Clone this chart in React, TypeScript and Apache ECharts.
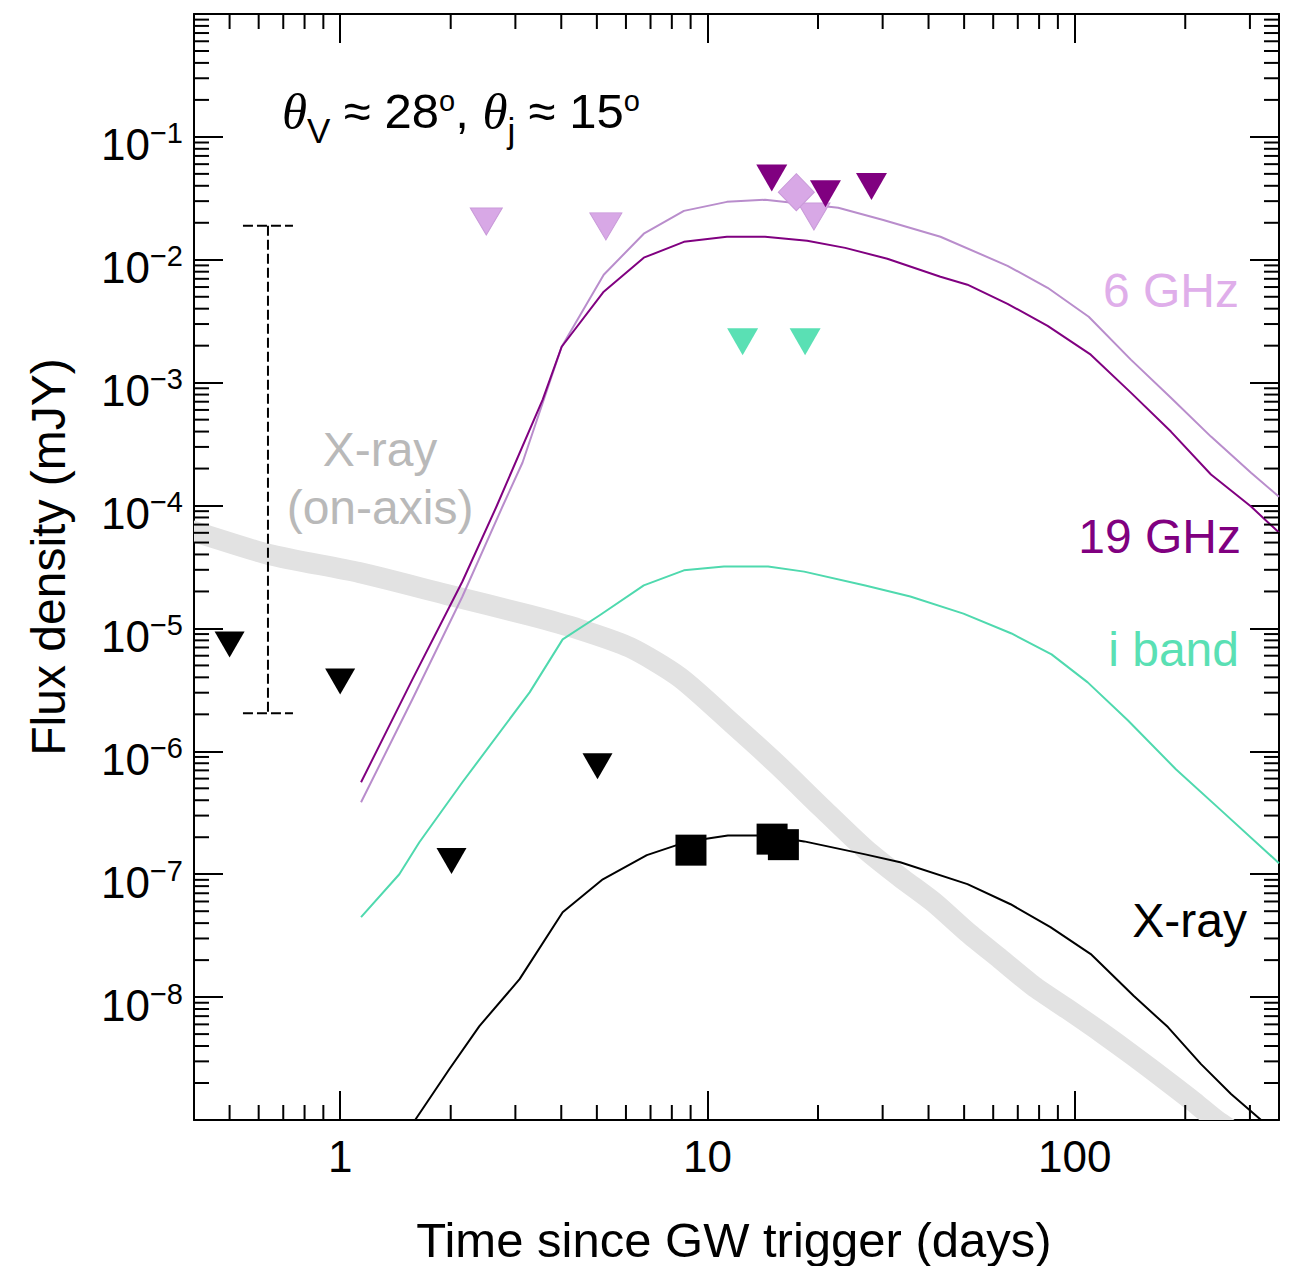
import React, { useEffect, useRef } from 'react';
import * as echarts from 'echarts';

const FONT = '"Liberation Sans", Arial, Helvetica, sans-serif';
const SERIF = '"Liberation Serif", "DejaVu Serif", serif';

// axis ranges
const X_MIN = 0.4;
const X_MAX = 360;
const Y_MIN = 1e-9;
const Y_MAX = 1;

// minor tick positions
const xMinorTicks = [0.5, 0.6, 0.7, 0.8, 0.9, 2, 3, 4, 5, 6, 7, 8, 9, 20, 30, 40, 50, 60, 70, 80, 90, 200, 300];
const yMinorMultipliers = [2, 3, 4, 5, 6, 7, 8, 9];
const yDecadeExponents = [-9, -8, -7, -6, -5, -4, -3, -2, -1];

// model curves: [days, mJy]
const onAxisXray: [number, number][] = [
  [0.37, 6.55e-5], [0.4, 6.15e-5], [0.64, 4.0e-5], [1.127, 2.85e-5], [1.946, 1.89e-5], [3.28, 1.28e-5],
  [4.49, 9.82e-6], [6.15, 7.01e-6], [8.41, 4.0e-6], [11.74, 1.66e-6], [15.48, 7.83e-7], [20.4, 3.51e-7],
  [26.9, 1.6e-7], [33.5, 9.46e-8], [41.3, 5.92e-8], [51.05, 3.37e-8], [62.8, 2.04e-8], [77.3, 1.23e-8],
  [95.7, 7.98e-9], [117.8, 5.19e-9], [144.9, 3.31e-9], [179.4, 2.04e-9], [211.2, 1.4e-9], [242.6, 1.0e-9],
  [284, 7.3e-10],
];

const ghz6Curve: [number, number][] = [
  [1.14, 3.85e-7], [1.573, 2.65e-6], [2.152, 1.82e-5], [2.767, 9.82e-5], [3.138, 2.24e-4], [4.01, 1.96e-3],
  [5.22, 7.55e-3], [6.71, 1.63e-2], [8.63, 2.5e-2], [11.3, 2.96e-2], [14.35, 3.08e-2], [22.71, 2.65e-2],
  [30.12, 2.11e-2], [43.1, 1.54e-2], [65.64, 8.93e-3], [84.4, 5.92e-3], [109.2, 3.44e-3], [142.2, 1.54e-3],
  [182.8, 7.55e-4], [235, 3.64e-4], [302.1, 1.85e-4], [360, 1.18e-4],
];

const ghz19Curve: [number, number][] = [
  [1.14, 5.6e-7], [1.573, 3.85e-6], [2.152, 2.41e-5], [2.665, 9.82e-5], [3.56, 7.28e-4], [4.01, 1.96e-3],
  [5.22, 5.5e-3], [6.71, 1.04e-2], [8.63, 1.4e-2], [11.3, 1.54e-2], [14.35, 1.54e-2], [18.69, 1.43e-2],
  [23.72, 1.25e-2], [30.89, 1.02e-2], [43.1, 7.28e-3], [51.05, 6.27e-3], [65.64, 4.38e-3], [84.4, 2.9e-3],
  [110.6, 1.69e-3], [142.2, 8.3e-4], [182.8, 4.0e-4], [235, 1.79e-4], [302.1, 9.82e-5], [360, 6.03e-5],
];

const iBandCurve: [number, number][] = [
  [1.14, 4.47e-8], [1.449, 1.0e-7], [1.643, 1.82e-7], [2.152, 5.6e-7], [3.28, 3.02e-6], [4.035, 8.15e-6],
  [5.09, 1.28e-5], [6.71, 2.24e-5], [8.63, 2.97e-5], [11.09, 3.19e-5], [14.63, 3.19e-5], [18.34, 2.9e-5],
  [26.9, 2.24e-5], [35.68, 1.82e-5], [49.78, 1.32e-5], [67.3, 9.1e-6], [86.5, 6.15e-6], [108.5, 3.64e-6],
  [139.5, 1.79e-6], [188.6, 7.15e-7], [248.7, 3.37e-7], [360, 1.23e-7],
];

const xrayCurve: [number, number][] = [
  [1.6, 1.0e-9], [1.984, 2.6e-9], [2.394, 5.81e-9], [3.08, 1.4e-8], [4.035, 4.91e-8], [5.19, 9.1e-8],
  [6.84, 1.43e-7], [8.85, 1.85e-7], [11.37, 2.07e-7], [14.63, 2.07e-7], [18.34, 1.85e-7], [26.9, 1.45e-7],
  [33.5, 1.25e-7], [51.05, 8.3e-8], [66.9, 5.7e-8], [85.9, 3.71e-8], [110.6, 2.24e-8], [144.9, 1.02e-8],
  [179.4, 5.7e-9], [220.8, 2.85e-9], [266.5, 1.63e-9], [321.8, 1.0e-9],
];

// observations
const xrayLimits: [number, number][] = [[0.5, 7.4e-6], [1.0, 3.7e-6], [2.01, 1.28e-7], [5.02, 7.55e-7]];
const xrayDetections: [number, number][] = [[9.02, 1.57e-7], [15.0, 1.93e-7], [16.1, 1.74e-7]];
const ghz6Limits: [number, number][] = [[2.5, 2.05e-2], [5.29, 1.87e-2], [19.5, 2.25e-2]];
const ghz6Detections: [number, number][] = [[17.46, 3.55e-2]];
const ghz19Limits: [number, number][] = [[14.97, 4.62e-2], [20.96, 3.44e-2], [27.97, 3.94e-2]];
const iBandLimits: [number, number][] = [[12.47, 2.15e-3], [18.45, 2.15e-3]];
// [days, low, high]
const rangeBar: [number, number, number][] = [[0.636, 2.04e-6, 1.89e-2]];

const C_6GHZ_LINE = '#b98dcc';
const C_6GHZ_MARK = '#d8a8e6';
const C_6GHZ_TEXT = '#dfaeea';
const C_19GHZ = '#800080';
const C_IBAND_LINE = '#4fd9ae';
const C_IBAND_MARK = '#5ae0b4';
const C_BAND = '#e2e2e2';
const C_BAND_TEXT = '#b9b9b9';

const MAJOR_LEN = 29;
const MINOR_LEN = 15;

function buildOption(): any {
  const yMinorTicks: number[] = [];
  yDecadeExponents.forEach((e) => yMinorMultipliers.forEach((m) => yMinorTicks.push(m * Math.pow(10, e))));

  const axisBase = {
    type: 'log',
    logBase: 10,
    axisLine: { show: true, lineStyle: { color: '#000', width: 2 } },
    axisTick: { show: true, inside: true, length: MAJOR_LEN, lineStyle: { color: '#000', width: 2 } },
    splitLine: { show: false },
    minorTick: { show: false },
  };

  const decadeExp = (v: number) => {
    const e = Math.log10(v);
    const r = Math.round(e);
    return Math.abs(e - r) < 1e-6 ? r : null;
  };

  const lineSeries = (name: string, data: [number, number][], color: string, width: number, z: number) => ({
    name,
    type: 'line',
    data,
    showSymbol: false,
    symbol: 'none',
    smooth: false,
    clip: true,
    silent: true,
    z,
    lineStyle: { color, width, cap: 'butt', join: 'round' },
  });

  const scatter = (name: string, data: [number, number][], symbol: string, size: any, color: string, border?: string) => ({
    name,
    type: 'scatter',
    data,
    symbol,
    symbolSize: size,
    symbolRotate: symbol === 'triangle' ? 180 : 0,
    silent: true,
    z: 5,
    itemStyle: { color, opacity: 1, borderColor: border || color, borderWidth: border ? 1 : 0 },
  });

  return {
    animation: false,
    backgroundColor: '#fff',
    grid: { left: 194, top: 14, width: 1085, height: 1106 },
    xAxis: [
      {
        ...axisBase,
        position: 'bottom',
        min: X_MIN,
        max: X_MAX,
        axisLabel: {
          show: true,
          margin: 14,
          fontSize: 44,
          lineHeight: 44,
          fontFamily: FONT,
          color: '#000',
          showMinLabel: false,
          showMaxLabel: false,
          formatter: (v: number) => {
            const r = decadeExp(v);
            return r === null ? '' : String(Math.round(Math.pow(10, r)));
          },
        },
      },
      { ...axisBase, position: 'top', min: X_MIN, max: X_MAX, axisLabel: { show: false } },
    ],
    yAxis: [
      {
        ...axisBase,
        position: 'left',
        min: Y_MIN,
        max: Y_MAX,
        axisLabel: {
          show: true,
          margin: 11,
          showMinLabel: false,
          showMaxLabel: false,
          padding: [12, 0, 0, 0],
          formatter: (v: number) => {
            const r = decadeExp(v);
            if (r === null) return '';
            return '{b|10}{s|\u2212' + String(-r) + '}';
          },
          rich: {
            b: { fontSize: 44, fontFamily: FONT, color: '#000', lineHeight: 48, verticalAlign: 'bottom' },
            s: { fontSize: 29, fontFamily: FONT, color: '#000', lineHeight: 24, verticalAlign: 'top' },
          },
        },
      },
      { ...axisBase, position: 'right', min: Y_MIN, max: Y_MAX, axisLabel: { show: false } },
    ],
    series: [
      {
        name: 'X-ray (on-axis)',
        type: 'custom',
        data: onAxisXray,
        encode: { x: 0, y: 1 },
        silent: true,
        clip: true,
        z: 1,
        renderItem: (params: any, api: any) => {
          if (params.dataIndex !== 0) return null;
          const pts = onAxisXray.map((p) => api.coord(p));
          return {
            type: 'polyline',
            shape: { points: pts, smooth: 0.25 },
            style: { stroke: C_BAND, lineWidth: 21, fill: null, lineCap: 'butt', lineJoin: 'round' },
          };
        },
      },
      lineSeries('6 GHz model', ghz6Curve, C_6GHZ_LINE, 2, 2),
      lineSeries('19 GHz model', ghz19Curve, C_19GHZ, 2, 2),
      lineSeries('i band model', iBandCurve, C_IBAND_LINE, 2, 2),
      lineSeries('X-ray model', xrayCurve, '#000', 2, 2),
      scatter('X-ray upper limits', xrayLimits, 'triangle', [30, 26], '#000'),
      scatter('X-ray detections', xrayDetections, 'rect', [31, 31], '#000'),
      scatter('6 GHz upper limits', ghz6Limits, 'triangle', [32, 27], C_6GHZ_MARK, '#c99ad9'),
      scatter('6 GHz detection', ghz6Detections, 'diamond', [36, 37], C_6GHZ_MARK, '#c99ad9'),
      scatter('19 GHz upper limits', ghz19Limits, 'triangle', [31, 27], C_19GHZ),
      scatter('i band upper limits', iBandLimits, 'triangle', [31, 27], C_IBAND_MARK),
      {
        name: 'range',
        type: 'custom',
        data: rangeBar,
        encode: { x: 0, y: [1, 2] },
        silent: true,
        z: 4,
        clip: false,
        renderItem: (params: any, api: any) => {
          const x = api.value(0);
          const lo = api.coord([x, api.value(1)]);
          const hi = api.coord([x, api.value(2)]);
          const half = 25;
          const st = { stroke: '#000', lineWidth: 2, lineDash: [10, 4], fill: null };
          return {
            type: 'group',
            children: [
              { type: 'line', shape: { x1: hi[0], y1: hi[1], x2: lo[0], y2: lo[1] }, style: st },
              { type: 'line', shape: { x1: hi[0] - half, y1: hi[1], x2: hi[0] + half, y2: hi[1] }, style: st },
              { type: 'line', shape: { x1: lo[0] - half, y1: lo[1], x2: lo[0] + half, y2: lo[1] }, style: st },
            ],
          };
        },
      },
      {
        name: 'x minor ticks',
        type: 'custom',
        data: xMinorTicks.map((v) => [v, 1e-3]),
        encode: { x: 0, y: 1 },
        silent: true,
        z: 10,
        clip: false,
        renderItem: (params: any, api: any) => {
          const cs = params.coordSys;
          const px = api.coord([api.value(0), api.value(1)])[0];
          const st = { stroke: '#000', lineWidth: 2 };
          const b = cs.y + cs.height;
          return {
            type: 'group',
            children: [
              { type: 'line', shape: { x1: px, y1: b, x2: px, y2: b - MINOR_LEN }, style: st },
              { type: 'line', shape: { x1: px, y1: cs.y, x2: px, y2: cs.y + MINOR_LEN }, style: st },
            ],
          };
        },
      },
      {
        name: 'y minor ticks',
        type: 'custom',
        data: yMinorTicks.map((v) => [1, v]),
        encode: { x: 0, y: 1 },
        silent: true,
        z: 10,
        clip: false,
        renderItem: (params: any, api: any) => {
          const cs = params.coordSys;
          const py = api.coord([api.value(0), api.value(1)])[1];
          const st = { stroke: '#000', lineWidth: 2 };
          const r = cs.x + cs.width;
          return {
            type: 'group',
            children: [
              { type: 'line', shape: { x1: cs.x, y1: py, x2: cs.x + MINOR_LEN, y2: py }, style: st },
              { type: 'line', shape: { x1: r, y1: py, x2: r - MINOR_LEN, y2: py }, style: st },
            ],
          };
        },
      },
    ],
    graphic: [
      {
        type: 'text',
        x: 282,
        y: 86,
        z: 20,
        style: {
          text: '{t|\u03B8}{v|V}{n| \u2248 28}{o|o}{n|, }{t|\u03B8}{v|j}{n| \u2248 15}{o|o}',
          align: 'left',
          verticalAlign: 'top',
          fill: '#000',
          rich: {
            t: { fontSize: 51, fontFamily: SERIF, fontStyle: 'italic', fill: '#000', lineHeight: 48, verticalAlign: 'top' },
            n: { fontSize: 49, fontFamily: FONT, fill: '#000', lineHeight: 48, verticalAlign: 'top' },
            v: { fontSize: 35, fontFamily: FONT, fill: '#000', lineHeight: 62, verticalAlign: 'bottom' },
            o: { fontSize: 29, fontFamily: FONT, fill: '#000', lineHeight: 24, verticalAlign: 'top' },
          },
        },
      },
      { type: 'text', x: 1239, y: 290, z: 20, style: { text: '6 GHz', fill: C_6GHZ_TEXT, fontSize: 48, fontFamily: FONT, align: 'right', verticalAlign: 'middle' } },
      { type: 'text', x: 1241, y: 536, z: 20, style: { text: '19 GHz', fill: C_19GHZ, fontSize: 48, fontFamily: FONT, align: 'right', verticalAlign: 'middle' } },
      { type: 'text', x: 1239, y: 649, z: 20, style: { text: 'i band', fill: C_IBAND_MARK, fontSize: 48, fontFamily: FONT, align: 'right', verticalAlign: 'middle' } },
      { type: 'text', x: 1247, y: 920, z: 20, style: { text: 'X-ray', fill: '#000', fontSize: 48, fontFamily: FONT, align: 'right', verticalAlign: 'middle' } },
      { type: 'text', x: 380, y: 449, z: 20, style: { text: 'X-ray', fill: C_BAND_TEXT, fontSize: 48, fontFamily: FONT, align: 'center', verticalAlign: 'middle' } },
      { type: 'text', x: 380, y: 507, z: 20, style: { text: '(on-axis)', fill: C_BAND_TEXT, fontSize: 48, fontFamily: FONT, align: 'center', verticalAlign: 'middle' } },
      { type: 'text', x: 734, y: 1240, z: 20, style: { text: 'Time since GW trigger (days)', fill: '#000', fontSize: 49, fontFamily: FONT, align: 'center', verticalAlign: 'middle' } },
      { type: 'text', x: 48, y: 557, rotation: Math.PI / 2, z: 20, style: { text: 'Flux density (mJY)', fill: '#000', fontSize: 48, fontFamily: FONT, align: 'center', verticalAlign: 'middle' } },
    ],
  };
}

export default function App() {
  const ref = useRef<HTMLDivElement>(null);
  useEffect(() => {
    if (!ref.current) return;
    const chart = echarts.init(ref.current, null, { renderer: 'svg' });
    chart.setOption(buildOption());
    return () => chart.dispose();
  }, []);
  return (
    <div
      ref={ref}
      style={{ position: 'absolute', left: 0, top: 0, width: 1293, height: 1266, background: '#fff' }}
    />
  );
}
